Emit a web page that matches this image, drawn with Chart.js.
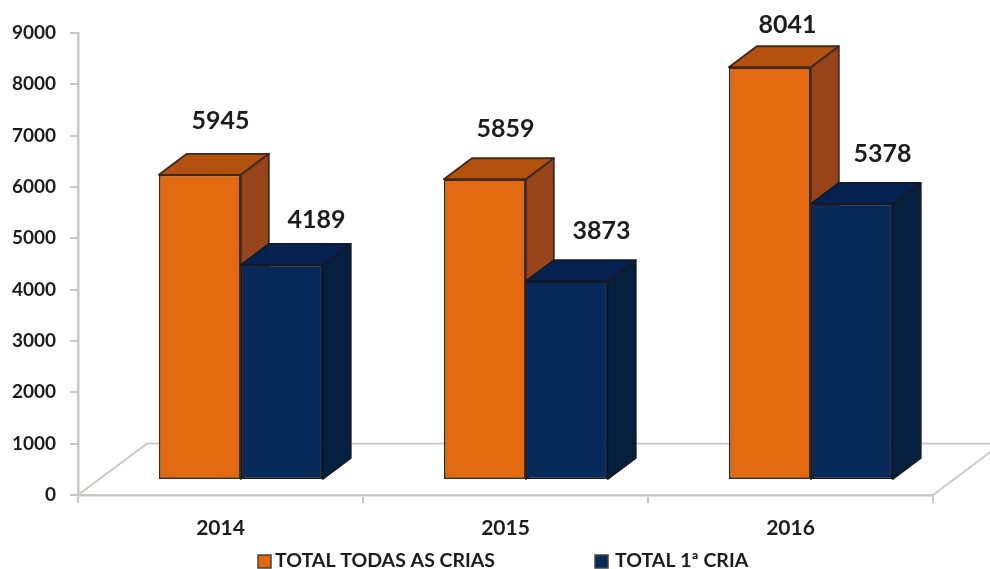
<!DOCTYPE html>
<html>
<head>
<meta charset="utf-8">
<style>
html,body{margin:0;padding:0;background:#fff}
canvas{display:block;filter:blur(0.5px)}
</style>
<script src="https://cdn.jsdelivr.net/npm/chart.js@4/dist/chart.umd.min.js"></script>
</head>
<body>
<canvas id="c" width="990" height="569"></canvas>
<script>
const categories = ['2014', '2015', '2016'];
const totalTodas = [5945, 5859, 8041];
const totalPrimeira = [4189, 3873, 5378];
const seriesNames = ['TOTAL TODAS AS CRIAS', 'TOTAL 1ª CRIA'];

const FONT = 'Lato, "Open Sans", sans-serif';
const INK = '#1c1c1c';
const AXIS = '#c9c7c3';
const FRONT = ['#e2690f', '#072a5a'];
const TOPF = ['#b5510f', '#052150'];
const SIDE = ['#97441a', '#05203f'];
const EDGE = ['#3a2a20', '#14192a'];
const SHIFT = {x: 20.3, y: -15};
const DEPTH = {x: 28, y: -21};
const LABEL_NUDGE = [[[7, -53], [7, -50], [4, -42]], [[21, -45], [21, -50], [17, -49]]];
const LEGEND_X = [[258, 275], [595, 615]];

function drawFaces(chart, meta, k) {
  const {ctx} = chart;
  meta.data.forEach(b => {
    const p = b.getProps(['x', 'y', 'width', 'base'], true);
    const l = p.x - p.width / 2, r = p.x + p.width / 2;
    ctx.strokeStyle = EDGE[k];
    ctx.lineWidth = 1.8;
    ctx.lineJoin = 'round';
    ctx.fillStyle = SIDE[k];
    ctx.beginPath();
    ctx.moveTo(r, p.y); ctx.lineTo(r + DEPTH.x, p.y + DEPTH.y);
    ctx.lineTo(r + DEPTH.x, p.base + DEPTH.y); ctx.lineTo(r, p.base);
    ctx.closePath(); ctx.fill(); ctx.stroke();
    ctx.fillStyle = TOPF[k];
    ctx.beginPath();
    ctx.moveTo(l, p.y); ctx.lineTo(l + DEPTH.x, p.y + DEPTH.y);
    ctx.lineTo(r + DEPTH.x, p.y + DEPTH.y); ctx.lineTo(r, p.y);
    ctx.closePath(); ctx.fill(); ctx.stroke();
  });
}

const scene = {
  id: 'scene',
  beforeDatasetsDraw(chart) {
    const {ctx, scales: {x, y}} = chart;
    const backY = y.getPixelForValue(1000);
    const baseY = y.getPixelForValue(0);
    const dx = baseY - backY + 17.5;
    ctx.save();
    ctx.strokeStyle = AXIS;
    ctx.lineWidth = 1.8;
    ctx.beginPath();
    ctx.moveTo(x.left, baseY); ctx.lineTo(x.left + dx, backY); ctx.lineTo(990, backY);
    ctx.moveTo(x.right, baseY); ctx.lineTo(x.right + dx, backY);
    ctx.stroke();
    ctx.restore();

    ctx.save();
    ctx.translate(SHIFT.x, SHIFT.y);
    chart.data.datasets.forEach((ds, k) => {
      const meta = chart.getDatasetMeta(k);
      drawFaces(chart, meta, k);
      meta.controller.draw();
    });
    ctx.restore();

    ctx.save();
    ctx.font = 'bold 25px ' + FONT;
    ctx.fillStyle = INK;
    ctx.textAlign = 'center';
    ctx.textBaseline = 'middle';
    chart.data.datasets.forEach((ds, k) => {
      chart.getDatasetMeta(k).data.forEach((b, i) => {
        const n = LABEL_NUDGE[k][i];
        ctx.fillText(String(ds.data[i]), b.x + 20 + n[0] + DEPTH.x / 2, b.y - 15.5 + n[1]);
      });
    });
    ctx.font = 'bold 19.5px ' + FONT;
    ctx.textAlign = 'left';
    chart.data.datasets.forEach((ds, k) => {
      const [bx, tx] = LEGEND_X[k];
      ctx.fillStyle = FRONT[k];
      ctx.strokeStyle = '#444';
      ctx.lineWidth = 1.5;
      ctx.fillRect(bx, 555, 13, 13);
      ctx.strokeRect(bx, 555, 13, 13);
      ctx.fillStyle = INK;
      ctx.fillText(ds.label, tx, 561);
    });
    ctx.restore();
    return false;
  }
};

new Chart(document.getElementById('c'), {
  type: 'bar',
  data: {
    labels: categories,
    datasets: [
      {label: seriesNames[0], data: totalTodas, backgroundColor: FRONT[0], borderColor: EDGE[0], borderWidth: 1.8, borderSkipped: false},
      {label: seriesNames[1], data: totalPrimeira, backgroundColor: FRONT[1], borderColor: EDGE[1], borderWidth: 1.8, borderSkipped: false}
    ]
  },
  plugins: [scene],
  options: {
    responsive: false,
    animation: false,
    barPercentage: 1,
    categoryPercentage: 0.575,
    layout: {padding: {left: 0, right: 57, top: 33, bottom: 0}},
    plugins: {legend: {display: false}, tooltip: {enabled: false}},
    scales: {
      x: {
        afterFit(s) { s.height = 74; },
        border: {color: AXIS, width: 2.5},
        grid: {display: true, offset: true, drawOnChartArea: false, drawTicks: true, tickLength: 8, color: AXIS, lineWidth: 2},
        ticks: {color: INK, padding: 13, maxRotation: 0, font: {family: FONT, weight: 'bold', size: 21}}
      },
      y: {
        min: 0, max: 9000,
        afterFit(s) { s.width = 78; },
        border: {color: AXIS, width: 2.5},
        grid: {display: true, drawOnChartArea: false, drawTicks: true, tickLength: 8, color: AXIS, lineWidth: 2},
        ticks: {stepSize: 1000, color: INK, padding: 14, callback: v => String(v), font: {family: FONT, weight: 'bold', size: 19}}
      }
    }
  }
});
</script>
</body>
</html>
